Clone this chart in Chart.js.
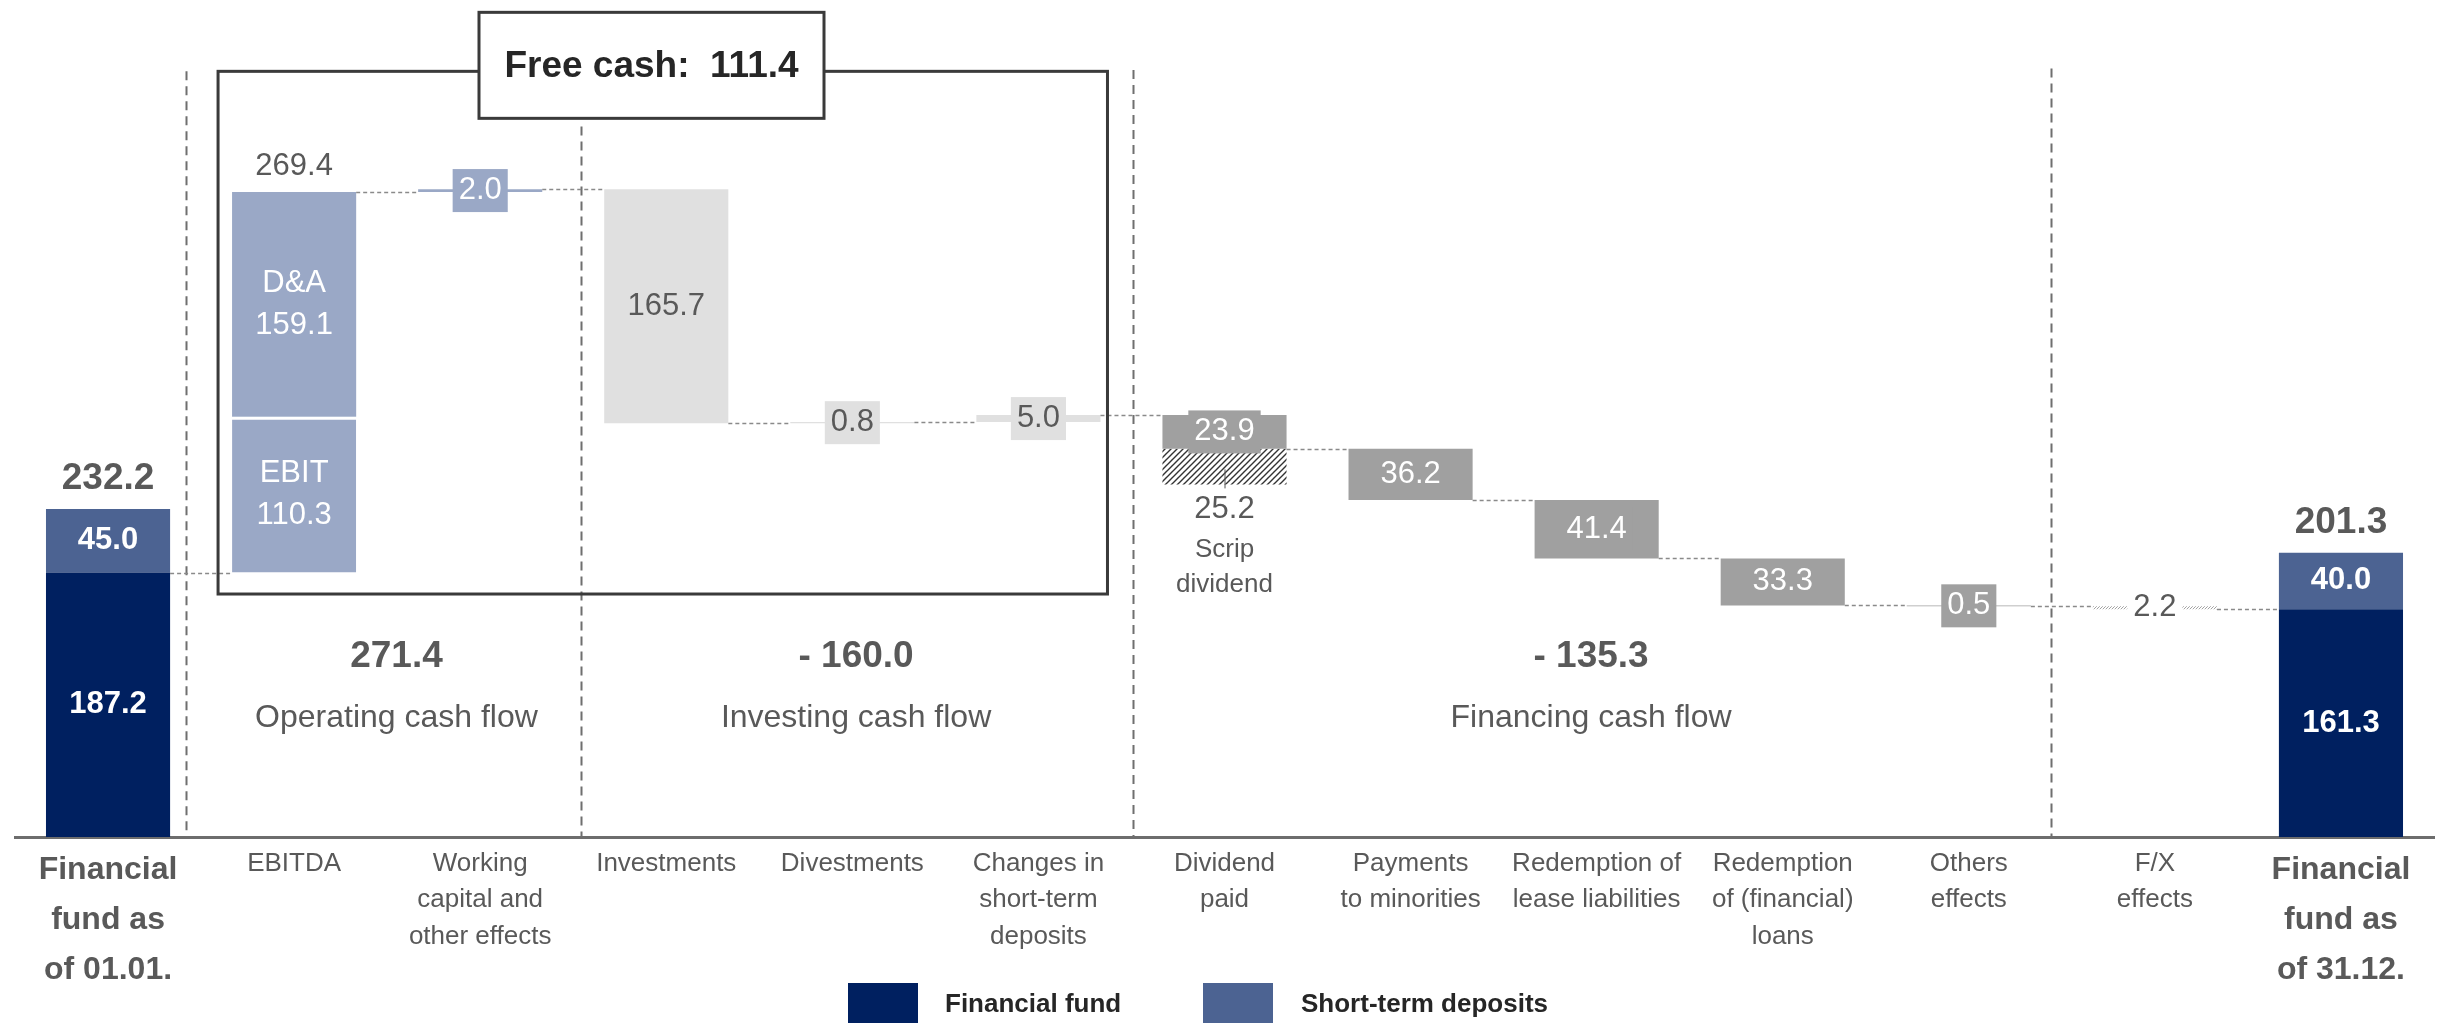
<!DOCTYPE html>
<html>
<head>
<meta charset="utf-8">
<script src="https://cdn.jsdelivr.net/npm/chart.js@4.4.1/dist/chart.umd.min.js"></script>
<style>
  html, body { margin: 0; padding: 0; background: #fff; }
  #wrap { width: 2440px; height: 1023px; position: relative; }
</style>
</head>
<body>
<div id="wrap"><canvas id="chart"></canvas></div>
<script>
const categories = [
  ['Financial', 'fund as', 'of 01.01.'],
  ['EBITDA'],
  ['Working', 'capital and', 'other effects'],
  ['Investments'],
  ['Divestments'],
  ['Changes in', 'short-term', 'deposits'],
  ['Dividend', 'paid'],
  ['Payments', 'to minorities'],
  ['Redemption of', 'lease liabilities'],
  ['Redemption', 'of (financial)', 'loans'],
  ['Others', 'effects'],
  ['F/X', 'effects'],
  ['Financial', 'fund as', 'of 31.12.']
];

const openingFund = 187.2;
const openingDeposits = 45.0;
const closingFund = 161.3;
const closingDeposits = 40.0;
const ebit = 110.3;
const depreciation = 159.1;
// cash flow steps, categories 1..11
const flows = [269.4, 2.0, -165.7, 0.8, 5.0, -23.9, -36.2, -41.4, -33.3, -0.5, -2.2];
const flowGroup = ['op', 'op', 'inv', 'inv', 'inv', 'fin', 'fin', 'fin', 'fin', 'fin', 'fx'];
const scripDividend = 25.2;
const sectionTotals = ['271.4', '- 160.0', '- 135.3'];
const sectionNames = ['Operating cash flow', 'Investing cash flow', 'Financing cash flow'];
const freeCash = 111.4;

const family = '"Liberation Sans", Arial, sans-serif';
const gray = '#595959';
const colors = {
  fund: '#002060',
  deposits: '#4c6392',
  op: '#9aa8c6',
  inv: '#e0e0e0',
  fin: '#a0a0a0'
};

// running totals: levels[0] = opening fund, levels[i] = after step i
const levels = [openingFund];
flows.forEach(f => levels.push(levels[levels.length - 1] + f));

const empty = () => categories.map(() => null);
const fundData = empty(), depositData = empty(), ebitData = empty(), daData = empty();
const opData = empty(), invData = empty(), finData = empty(), scripData = empty(), fxData = empty();

fundData[0] = [0, openingFund];
depositData[0] = [openingFund, openingFund + openingDeposits];
fundData[12] = [0, closingFund];
depositData[12] = [closingFund, closingFund + closingDeposits];
ebitData[1] = [openingFund, openingFund + ebit];
daData[1] = [openingFund + ebit, openingFund + ebit + depreciation];
flows.forEach((f, k) => {
  const i = k + 1;
  if (i === 1) return;
  const range = [Math.min(levels[k], levels[i]), Math.max(levels[k], levels[i])];
  if (flowGroup[k] === 'op') opData[i] = range;
  if (flowGroup[k] === 'inv') invData[i] = range;
  if (flowGroup[k] === 'fin') finData[i] = range;
  if (flowGroup[k] === 'fx') fxData[i] = range;
});
scripData[6] = [levels[6] - scripDividend, levels[6]];

function hatch(line, bg, size, lw) {
  const c = document.createElement('canvas');
  c.width = size; c.height = size;
  const g = c.getContext('2d');
  g.fillStyle = bg; g.fillRect(0, 0, size, size);
  g.strokeStyle = line; g.lineWidth = lw;
  g.beginPath();
  g.moveTo(0, size); g.lineTo(size, 0);
  g.moveTo(-size / 2, size / 2); g.lineTo(size / 2, -size / 2);
  g.moveTo(size / 2, size * 1.5); g.lineTo(size * 1.5, size / 2);
  g.stroke();
  return g.createPattern(c, 'repeat');
}

function txt(ctx, s, x, y, size, weight, color) {
  ctx.font = `${weight} ${size}px ${family}`;
  ctx.fillStyle = color;
  ctx.textAlign = 'center';
  ctx.textBaseline = 'middle';
  ctx.fillText(s, x, y);
}

function boxed(ctx, s, x, y, color, bg) {
  ctx.font = `normal 31px ${family}`;
  const w = ctx.measureText(s).width + 12, h = 43;
  ctx.fillStyle = bg;
  ctx.fillRect(x - w / 2, y - h / 2, w, h);
  txt(ctx, s, x, y, 31, 'normal', color);
}

// section separators in category units, with top value
const separators = [[0.42, 542], [2.54, 503], [5.51, 543], [10.44, 544]];
const sectionCenters = [1.55, 4.02, 7.97];

const overlay = {
  id: 'overlay',
  beforeDatasetsDraw(chart) {
    const { ctx, scales: { x, y } } = chart;
    const step = x.getPixelForValue(1) - x.getPixelForValue(0);
    ctx.save();
    ctx.strokeStyle = '#6f6f6f';
    ctx.lineWidth = 2;
    ctx.setLineDash([9, 6]);
    separators.forEach(([at, top]) => {
      const px = Math.round(x.getPixelForValue(0) + at * step) + 0.5;
      ctx.beginPath();
      ctx.moveTo(px, y.getPixelForValue(top));
      ctx.lineTo(px, y.getPixelForValue(0));
      ctx.stroke();
    });
    ctx.restore();
  },
  afterDatasetsDraw(chart) {
    const { ctx, scales: { x, y } } = chart;
    const bar = (ds, i) => chart.getDatasetMeta(ds).data[i];
    const barW = bar(0, 0).width;
    const mid = b => (b.y + b.base) / 2;

    ctx.save();
    // connectors
    ctx.strokeStyle = '#8a8a8a';
    ctx.lineWidth = 1.5;
    ctx.setLineDash([4, 3]);
    for (let i = 0; i < 12; i++) {
      const py = Math.round(y.getPixelForValue(levels[i])) + 0.5;
      const x1 = x.getPixelForValue(i) + barW / 2;
      const x2 = x.getPixelForValue(i + 1) - barW / 2;
      ctx.beginPath(); ctx.moveTo(x1, py); ctx.lineTo(x2, py); ctx.stroke();
    }
    ctx.setLineDash([]);

    // free cash frame
    const rl = x.getPixelForValue(1) - barW / 2 - 14;
    const rr = x.getPixelForValue(5) + barW / 2 + 7;
    const rt = y.getPixelForValue(542), rb = y.getPixelForValue(172);
    ctx.strokeStyle = '#3a3a3a';
    ctx.lineWidth = 3;
    ctx.strokeRect(rl, rt, rr - rl, rb - rt);
    const fl = 479, fw = 345, ft = rt - 59, fh = 106;
    ctx.fillStyle = '#fff';
    ctx.fillRect(fl, ft, fw, fh);
    ctx.strokeRect(fl, ft, fw, fh);
    txt(ctx, 'Free cash:  ' + freeCash.toFixed(1), fl + fw / 2, ft + fh / 2 + 1, 37, 'bold', '#262626');

    // opening / closing fund
    [[0, openingFund, openingDeposits], [12, closingFund, closingDeposits]].forEach(([i, f, d]) => {
      const bf = bar(0, i), bd = bar(1, i);
      txt(ctx, f.toFixed(1), bf.x, mid(bf), 31, 'bold', '#fff');
      txt(ctx, d.toFixed(1), bd.x, mid(bd), 31, 'bold', '#fff');
      txt(ctx, (f + d).toFixed(1), bd.x, bd.y - 30, 37, 'bold', gray);
    });

    // EBITDA split
    const be = bar(2, 1), bda = bar(3, 1);
    txt(ctx, 'EBIT', be.x, mid(be) - 21, 31, 'normal', '#fff');
    txt(ctx, ebit.toFixed(1), be.x, mid(be) + 21, 31, 'normal', '#fff');
    txt(ctx, 'D&A', bda.x, mid(bda) - 21, 31, 'normal', '#fff');
    txt(ctx, depreciation.toFixed(1), bda.x, mid(bda) + 21, 31, 'normal', '#fff');
    txt(ctx, flows[0].toFixed(1), bda.x, bda.y - 26, 31, 'normal', gray);

    // step labels
    flows.forEach((f, k) => {
      const i = k + 1;
      if (i === 1) return;
      const g = flowGroup[k];
      const ds = { op: 4, inv: 5, fin: 6, fx: 8 }[g];
      const b = bar(ds, i);
      const s = Math.abs(f).toFixed(1);
      if (g === 'op') boxed(ctx, s, b.x, mid(b), '#fff', colors.op);
      else if (g === 'inv') boxed(ctx, s, b.x, mid(b), gray, colors.inv);
      else if (g === 'fin') boxed(ctx, s, b.x, mid(b), '#fff', colors.fin);
      else boxed(ctx, s, b.x, mid(b), gray, '#fff');
    });

    // scrip dividend
    const bs = bar(7, 6);
    const hb = bs.base;
    ctx.strokeStyle = '#555';
    ctx.lineWidth = 1;
    ctx.beginPath(); ctx.moveTo(bs.x + 0.5, hb - 15); ctx.lineTo(bs.x + 0.5, hb + 4); ctx.stroke();
    txt(ctx, scripDividend.toFixed(1), bs.x, hb + 25, 31, 'normal', gray);
    txt(ctx, 'Scrip', bs.x, hb + 65, 26, 'normal', gray);
    txt(ctx, 'dividend', bs.x, hb + 100, 26, 'normal', gray);

    // section totals
    const step = x.getPixelForValue(1) - x.getPixelForValue(0);
    sectionCenters.forEach((c, k) => {
      const px = x.getPixelForValue(0) + c * step;
      txt(ctx, sectionTotals[k], px, 657, 37, 'bold', gray);
      txt(ctx, sectionNames[k], px, 718, 32, 'normal', gray);
    });
    ctx.restore();
  },
  afterDraw(chart) {
    const ctx = chart.ctx;
    ctx.save();
    ctx.fillStyle = colors.fund;
    ctx.fillRect(848, 983, 70, 42);
    ctx.fillStyle = colors.deposits;
    ctx.fillRect(1203, 983, 70, 42);
    ctx.font = `bold 26px ${family}`;
    ctx.fillStyle = '#262626';
    ctx.textAlign = 'left';
    ctx.textBaseline = 'middle';
    ctx.fillText(chart.data.datasets[0].label, 945, 1005);
    ctx.fillText(chart.data.datasets[1].label, 1301, 1005);
    ctx.restore();
  }
};

const common = { grouped: false, barPercentage: 0.667, categoryPercentage: 1.0, borderWidth: 0 };

new Chart(document.getElementById('chart'), {
  type: 'bar',
  data: {
    labels: categories,
    datasets: [
      { label: 'Financial fund', data: fundData, backgroundColor: colors.fund, ...common },
      { label: 'Short-term deposits', data: depositData, backgroundColor: colors.deposits, ...common },
      { label: 'EBIT', data: ebitData, backgroundColor: colors.op, ...common,
        borderColor: '#fff', borderWidth: { top: 3, left: 0, right: 0, bottom: 0 }, borderSkipped: false },
      { label: 'D&A', data: daData, backgroundColor: colors.op, ...common },
      { label: 'Operating', data: opData, backgroundColor: colors.op, ...common },
      { label: 'Investing', data: invData, backgroundColor: colors.inv, ...common },
      { label: 'Financing', data: finData, backgroundColor: colors.fin, ...common },
      { label: 'Scrip dividend', data: scripData, backgroundColor: hatch('#333', '#fff', 6, 1.4), ...common },
      { label: 'F/X', data: fxData, backgroundColor: hatch('#8a8a8a', '#fff', 3, 0.8), ...common }
    ]
  },
  options: {
    responsive: true,
    maintainAspectRatio: false,
    animation: false,
    layout: { padding: { left: 15, right: 6, top: 0, bottom: 0 } },
    plugins: { legend: { display: false }, tooltip: { enabled: false } },
    scales: {
      x: {
        offset: true,
        grid: { display: false, drawTicks: false },
        border: { display: true, color: '#6d6d6d', width: 3 },
        ticks: {
          autoSkip: false, maxRotation: 0, minRotation: 0, padding: 8,
          color: gray,
          font: c => (c.index === 0 || c.index === 12)
            ? { family, size: 32, weight: 'bold', lineHeight: 1.56 }
            : { family, size: 26, lineHeight: 1.41 }
        },
        afterFit: s => { s.height = 186; }
      },
      y: { display: false, min: 0, max: 592.5 }
    }
  },
  plugins: [overlay]
});
</script>
</body>
</html>
